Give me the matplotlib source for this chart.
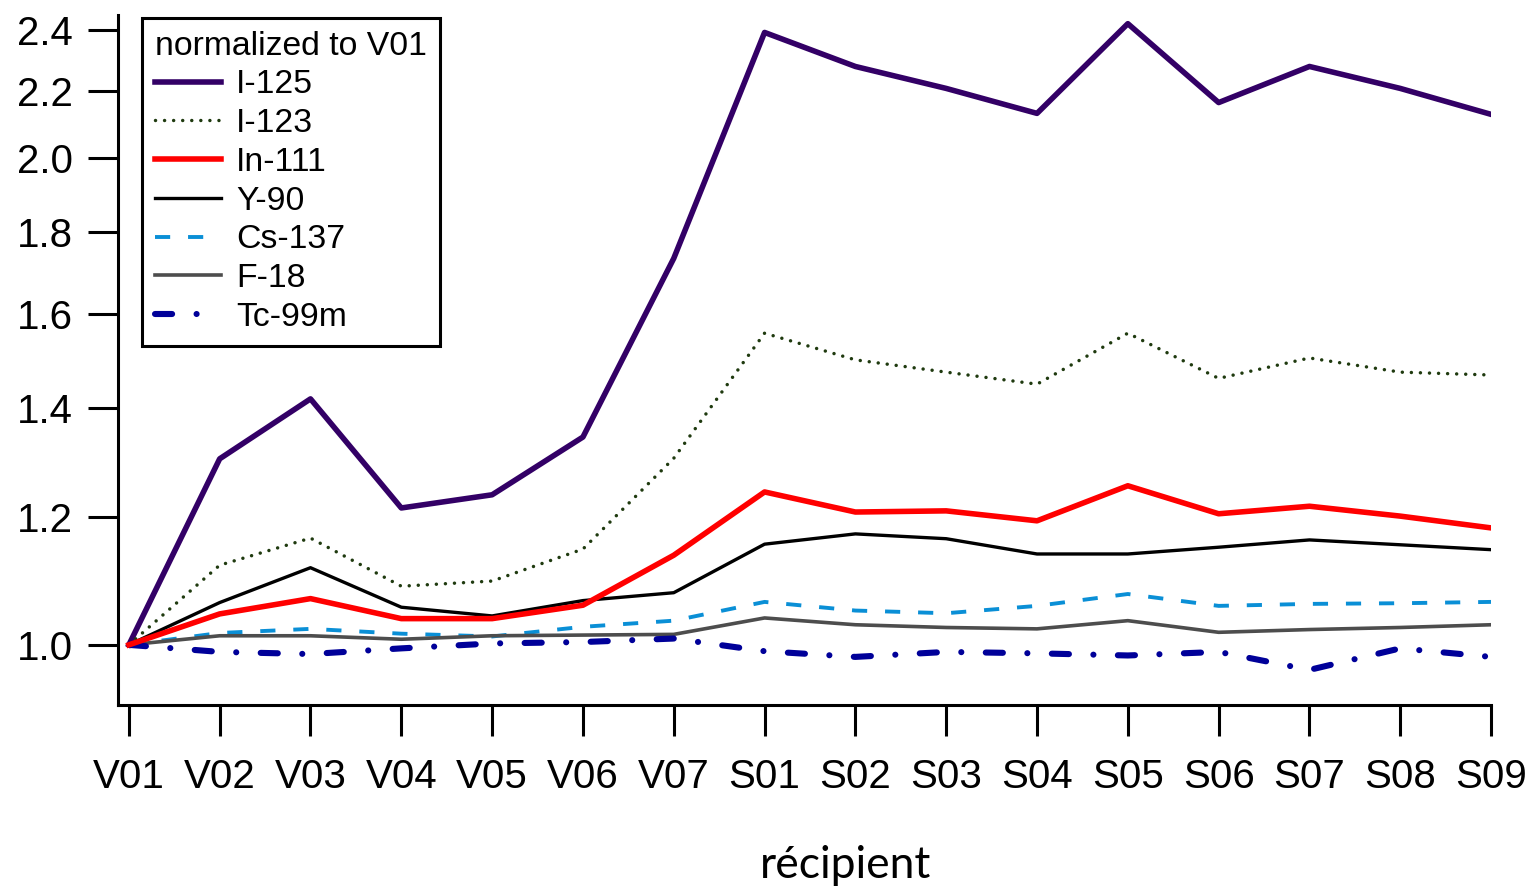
import matplotlib.pyplot as plt
from matplotlib.ticker import FixedLocator, FixedFormatter, NullLocator

plt.rcParams['font.family'] = ['Liberation Sans', 'DejaVu Sans']

# recipients on the x axis
recipients = ['V01', 'V02', 'V03', 'V04', 'V05', 'V06', 'V07',
              'S01', 'S02', 'S03', 'S04', 'S05', 'S06', 'S07', 'S08', 'S09']

# values normalized to V01
i125 = [1.0, 1.303, 1.419, 1.215, 1.238, 1.344, 1.733, 2.39, 2.277, 2.207,
        2.13, 2.42, 2.163, 2.277, 2.207, 2.127]
i123 = [1.0, 1.12, 1.164, 1.087, 1.095, 1.146, 1.304, 1.558, 1.50, 1.474,
        1.449, 1.558, 1.461, 1.504, 1.474, 1.468]
in111 = [1.0, 1.045, 1.068, 1.038, 1.038, 1.058, 1.136, 1.243, 1.208, 1.21,
         1.193, 1.254, 1.205, 1.218, 1.201, 1.181]
y90 = [1.0, 1.062, 1.116, 1.055, 1.042, 1.065, 1.077, 1.154, 1.171, 1.163,
       1.138, 1.138, 1.149, 1.161, 1.153, 1.145]
cs137 = [1.0, 1.017, 1.023, 1.016, 1.012, 1.026, 1.035, 1.063, 1.05, 1.046,
         1.057, 1.075, 1.057, 1.060, 1.061, 1.063]
f18 = [1.0, 1.013, 1.013, 1.008, 1.013, 1.014, 1.015, 1.039, 1.029, 1.025,
       1.023, 1.035, 1.018, 1.022, 1.025, 1.029]
tc99m = [1.0, 0.99, 0.987, 0.995, 1.002, 1.004, 1.009, 0.991, 0.983, 0.990,
         0.988, 0.985, 0.990, 0.965, 0.995, 0.983]

yticks = [1.0, 1.2, 1.4, 1.6, 1.8, 2.0, 2.2, 2.4]
ytick_labels = ['1.0', '1.2', '1.4', '1.6', '1.8', '2.0', '2.2', '2.4']

fig = plt.figure(figsize=(15.32, 8.88), dpi=100)
ax = fig.add_axes([0.077, 0.2061, 0.8963, 0.777])

x = range(len(recipients))
ax.plot(x, i125, color='#330066', lw=4.0, label='I-125', zorder=3)
ax.plot(x, i123, color='#1f3a0f', lw=2.5, linestyle=(0, (0.01, 2.6)),
        dash_capstyle='round', label='I-123', zorder=3)
ax.plot(x, in111, color='#ff0000', lw=4.0, label='In-111', zorder=6)
ax.plot(x, y90, color='black', lw=2.4, label='Y-90', zorder=3)
ax.plot(x, cs137, color='#0a8fd6', lw=2.8, linestyle=(0, (3.9, 4.6)),
        label='Cs-137', zorder=4)
ax.plot(x, f18, color='#4d4d4d', lw=2.6, label='F-18', zorder=4)
ax.plot(x, tc99m, color='#000099', lw=4.4, linestyle=(0, (2.8, 4.0, 0.01, 4.0)),
        dash_capstyle='round', label='Tc-99m', zorder=5)

ax.set_yscale('log')
ax.set_ylim(0.918, 2.45)
ax.set_xlim(-0.12, 15)
ax.yaxis.set_major_locator(FixedLocator(yticks))
ax.yaxis.set_major_formatter(FixedFormatter(ytick_labels))
ax.yaxis.set_minor_locator(NullLocator())
ax.set_xticks(list(x))
ax.set_xticklabels(recipients)

for side in ['top', 'right']:
    ax.spines[side].set_visible(False)
for side in ['left', 'bottom']:
    ax.spines[side].set_linewidth(2.2)

ax.tick_params(axis='y', length=21.6, width=2.2, pad=11, labelsize=29)
ax.tick_params(axis='x', length=22, width=2.2, pad=16, labelsize=29)

fig.text(846 / 1532, 1 - 865 / 888, 'récipient', family=['Lato', 'DejaVu Sans'],
         fontsize=32, ha='center', va='center')

leg = ax.legend(title='normalized to V01', loc='upper left',
                bbox_to_anchor=(0.0175, 0.996), borderaxespad=0,
                fontsize=24.3, title_fontsize=24.3, frameon=True, fancybox=False,
                framealpha=1, edgecolor='black', handlelength=1.95,
                handletextpad=0.45, labelspacing=0.23, borderpad=0.38,
                alignment='left')
leg.get_frame().set_linewidth(2.2)

fig.savefig('out.png', dpi=100)
